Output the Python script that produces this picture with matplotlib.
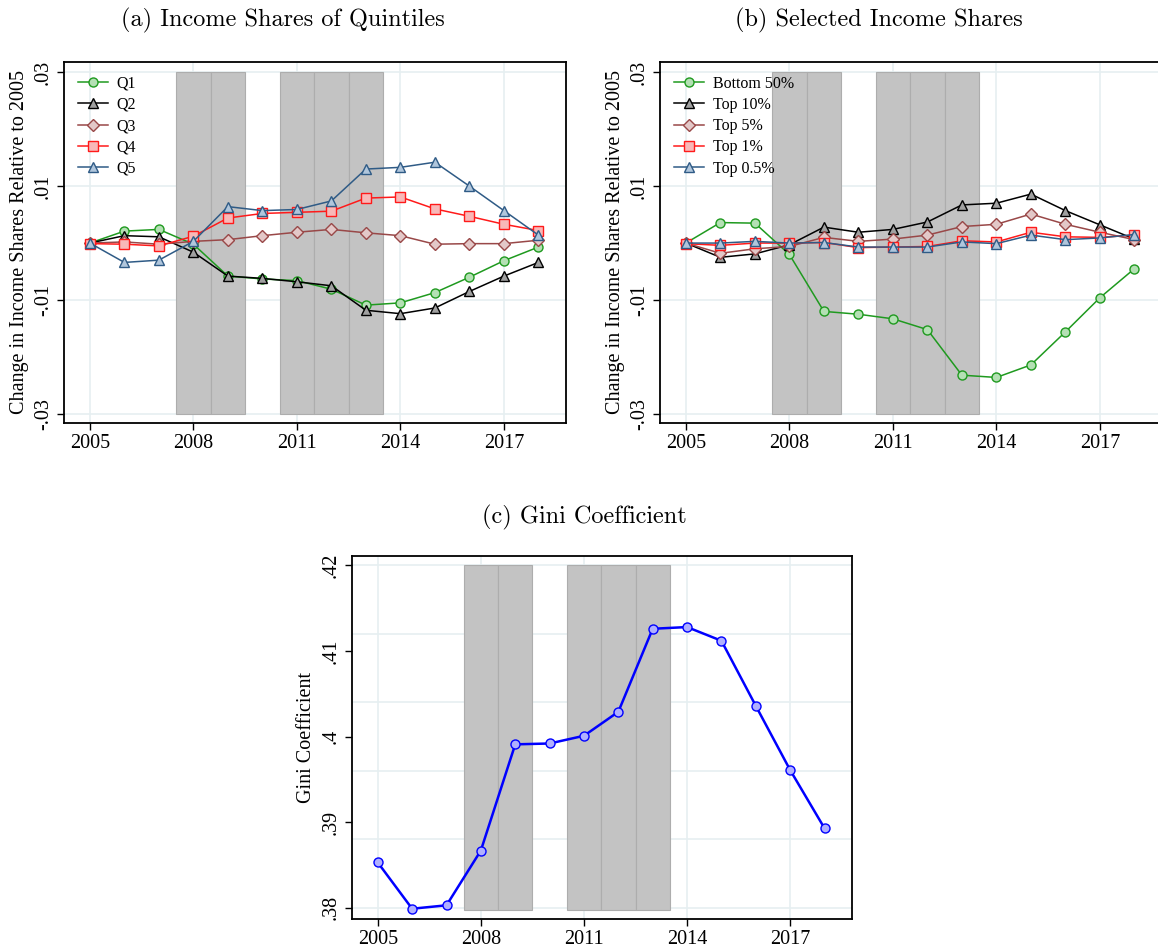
import matplotlib
matplotlib.use("Agg")
import matplotlib.pyplot as plt
import numpy as np

# ---------------- data ----------------
years = [2005, 2006, 2007, 2008, 2009, 2010, 2011, 2012, 2013, 2014, 2015, 2016, 2017, 2018]
recession_years = [2008, 2009, 2011, 2012, 2013]

q1 = [0.0, 0.0021, 0.0024, -0.0002, -0.0058, -0.0063, -0.0066, -0.0081, -0.0109, -0.0105, -0.0087, -0.0060, -0.0031, -0.0007]
q2 = [0.0, 0.0013, 0.0011, -0.0016, -0.0058, -0.0062, -0.0068, -0.0075, -0.0118, -0.0124, -0.0114, -0.0085, -0.0058, -0.0034]
q3 = [0.0, 0.0002, -0.0002, 0.0003, 0.0006, 0.0013, 0.0019, 0.0024, 0.0018, 0.0013, -0.0002, -0.0001, -0.0001, 0.0005]
q4 = [-0.0001, -0.0002, -0.0005, 0.0012, 0.0044, 0.0052, 0.0054, 0.0056, 0.0079, 0.0081, 0.0060, 0.0047, 0.0033, 0.0022]
q5 = [0.0, -0.0034, -0.0030, 0.0003, 0.0064, 0.0057, 0.0059, 0.0074, 0.0130, 0.0133, 0.0142, 0.0100, 0.0057, 0.0014]

bottom50 = [0.0, 0.0036, 0.0035, -0.0020, -0.0120, -0.0125, -0.0133, -0.0152, -0.0232, -0.0236, -0.0214, -0.0156, -0.0096, -0.0045]
top10 = [0.0, -0.0025, -0.0019, -0.0003, 0.0028, 0.0019, 0.0024, 0.0037, 0.0067, 0.0070, 0.0086, 0.0057, 0.0032, 0.0007]
top5 = [0.0, -0.0018, -0.0010, -0.0006, 0.0010, 0.0003, 0.0007, 0.0014, 0.0029, 0.0033, 0.0051, 0.0033, 0.0019, 0.0006]
top1 = [-0.0001, -0.0004, 0.0000, 0.0000, 0.0001, -0.0008, -0.0007, -0.0006, 0.0004, 0.0002, 0.0019, 0.0011, 0.0010, 0.0014]
top05 = [0.0, 0.0000, 0.0003, 0.0000, 0.0001, -0.0007, -0.0007, -0.0007, 0.0002, -0.0001, 0.0014, 0.0006, 0.0009, 0.0015]

gini = [0.3853, 0.3799, 0.3803, 0.3867, 0.3991, 0.3992, 0.4001, 0.4029, 0.4126, 0.4128, 0.4112, 0.4036, 0.3961, 0.3893]

xticks = [2005, 2008, 2011, 2014, 2017]
share_ticks = [-0.03, -0.01, 0.01, 0.03]
share_labels = ['-.03', '-.01', '.01', '.03']
gini_ticks = [0.38, 0.39, 0.40, 0.41, 0.42]
gini_labels = ['.38', '.39', '.4', '.41', '.42']
gini_grid = [0.38, 0.388, 0.396, 0.404, 0.412, 0.42]

quint_names = ['Q1', 'Q2', 'Q3', 'Q4', 'Q5']
sel_names = ['Bottom 50%', 'Top 10%', 'Top 5%', 'Top 1%', 'Top 0.5%']

# ---------------- style ----------------
W, H = 1158, 949
fig = plt.figure(figsize=(W / 100, H / 100), dpi=100)
serif = ['Liberation Serif', 'DejaVu Serif']
plt.rcParams['font.family'] = serif

styles = [
    dict(color='#1f9a1f', marker='o', mfc='#b4e0b4', mec='#1f9a1f'),
    dict(color='#000000', marker='^', mfc='#a0a0a0', mec='#000000'),
    dict(color='#994848', marker='D', mfc='#e3c8c8', mec='#994848', ms=6.0),
    dict(color='#ff1a1a', marker='s', mfc='#f8b8b8', mec='#ff1a1a'),
    dict(color='#2f5b86', marker='^', mfc='#b0c6dc', mec='#2f5b86'),
]
GRID = '#e6eff1'
SHADE = '#c3c3c3'
SHADE_EDGE = '#adadad'


def px_axes(l, t, r, b):
    return fig.add_axes([l / W, 1 - b / H, (r - l) / W, (b - t) / H])


def base(ax, ylo, yhi, yticks, ylabels, xlim, grid_y):
    ax.set_xlim(*xlim)
    ax.set_ylim(ylo, yhi)
    for g in grid_y:
        ax.axhline(g, color=GRID, lw=1.2, zorder=0)
    for g in xticks:
        ax.axvline(g, color=GRID, lw=1.2, zorder=0)
    ax.set_xticks(xticks)
    ax.set_xticklabels([str(x) for x in xticks], fontsize=14.5)
    ax.set_yticks(yticks)
    ax.set_yticklabels(ylabels, fontsize=14.5, rotation=90, va='center')
    ax.tick_params(direction='out', length=5, width=1, pad=3)
    for s in ax.spines.values():
        s.set_linewidth(1.3)
        s.set_color('black')


def shade(ax, lo, hi):
    ax.bar(recession_years, [hi - lo] * len(recession_years), bottom=lo, width=1.0,
           color=SHADE, edgecolor=SHADE_EDGE, linewidth=0.8, zorder=1)


def panel_shares(ax, series, names):
    base(ax, -0.0316, 0.0318, share_ticks, share_labels, (2004.25, 2018.8), share_ticks)
    shade(ax, -0.03, 0.03)
    handles = []
    for vals, name, st in zip(series, names, styles):
        st = dict(st)
        ms = st.pop('ms', 6.5)
        h, = ax.plot(years, vals, lw=1.1, ms=ms, mew=1.0, label=name, zorder=3, **st)
        handles.append(h)
    ax.legend(handles=handles, loc='upper left', frameon=False, fontsize=11.5,
              handlelength=1.9, labelspacing=0.33, borderaxespad=0.45,
              bbox_to_anchor=(0.0, 1.0), handletextpad=0.55, borderpad=0.4)
    ax.set_ylabel('Change in Income Shares Relative to 2005', fontsize=14.5)


# panel a
axa = px_axes(64, 62, 566, 423)
panel_shares(axa, [q1, q2, q3, q4, q5], quint_names)
axa.yaxis.set_label_coords(-0.07, 0.5)

# panel b
axb = px_axes(660, 62, 1162, 423)
panel_shares(axb, [bottom50, top10, top5, top1, top05], sel_names)
axb.yaxis.set_label_coords(-0.07, 0.5)

# panel c
axc = px_axes(352, 556, 852, 919)
base(axc, 0.3787, 0.4211, gini_ticks, gini_labels, (2004.25, 2018.8), gini_grid)
shade(axc, 0.3797, 0.42)
axc.plot(years, gini, color='#0000ff', lw=1.8, marker='o', ms=6.5, mfc='#b0b0ff', mec='#0000ff', mew=1.0, zorder=3)
axc.set_ylabel('Gini Coefficient', fontsize=14.5)
axc.yaxis.set_label_coords(-0.072, 0.5)

# titles
tfont = dict(family=['cmr10', 'DejaVu Serif'], fontsize=17.5, ha='center', va='center')
fig.text(283 / W, 1 - 20 / H, '(a) Income Shares of Quintiles', **tfont)
fig.text(879 / W, 1 - 20 / H, '(b) Selected Income Shares', **tfont)
fig.text(584 / W, 1 - 517 / H, '(c) Gini Coefficient', **tfont)

fig.savefig('out.png', dpi=100)
